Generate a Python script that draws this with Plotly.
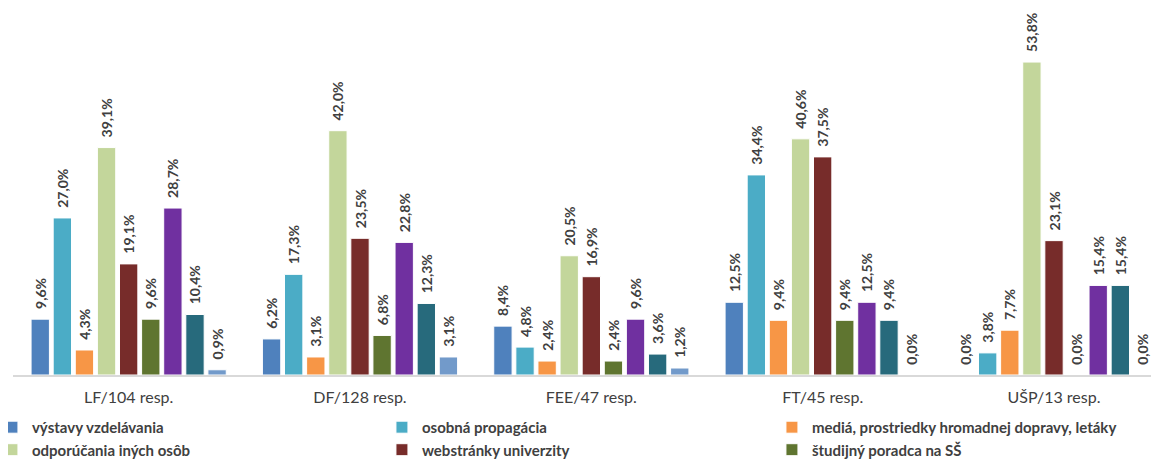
import plotly.graph_objects as go

categories = ["LF/104 resp.", "DF/128 resp.", "FEE/47 resp.", "FT/45 resp.", "UŠP/13 resp."]

series_names = [
    "výstavy vzdelávania",
    "osobná propagácia",
    "mediá, prostriedky hromadnej dopravy, letáky",
    "odporúčania iných osôb",
    "webstránky univerzity",
    "študijný poradca na SŠ",
    "sociálne siete",
    "deň otvorených dverí",
    "iné",
]

vystavy = [9.6, 6.2, 8.4, 12.5, 0.0]
osobna = [27.0, 17.3, 4.8, 34.4, 3.8]
media = [4.3, 3.1, 2.4, 9.4, 7.7]
odporucania = [39.1, 42.0, 20.5, 40.6, 53.8]
webstranky = [19.1, 23.5, 16.9, 37.5, 23.1]
poradca = [9.6, 6.8, 2.4, 9.4, 0.0]
socialne = [28.7, 22.8, 9.6, 12.5, 15.4]
dod = [10.4, 12.3, 3.6, 9.4, 15.4]
ine = [0.9, 3.1, 1.2, 0.0, 0.0]

series_values = [vystavy, osobna, media, odporucania, webstranky, poradca, socialne, dod, ine]
colors = ["#4F81BD", "#4BACC6", "#F79646", "#C3D69B", "#772C2A",
          "#5F7530", "#7030A0", "#276A7C", "#729ACA"]
legend_visible = [True, True, True, True, True, True, False, False, False]

FONT = "Lato, sans-serif"

fig = go.Figure()
for name, vals, col, lv in zip(series_names, series_values, colors, legend_visible):
    fig.add_trace(go.Bar(
        x=categories, y=vals, name=name,
        marker=dict(color=col, line=dict(color="white", width=1)),
        texttemplate="\u00a0\u00a0<b>%{y:.1f}%</b>",
        textposition="outside", textangle=-90,
        constraintext="none",
        textfont=dict(family=FONT, size=14, color="#404040"),
        cliponaxis=False,
        showlegend=lv,
    ))

# page body has an 8px margin; figure coordinates compensate for it
fig.update_layout(
    width=1210, height=451,
    margin=dict(l=5, r=9, t=18, b=84, autoexpand=False),
    paper_bgcolor="white", plot_bgcolor="white",
    barmode="group", bargap=0.14, bargroupgap=0.17,
    separators=",.",
    font=dict(family=FONT, size=14, color="#404040"),
    legend=dict(
        orientation="h", x=-0.0176, xanchor="left", y=-0.103, yanchor="top",
        entrywidth=345, entrywidthmode="pixels",
        font=dict(family=FONT, size=15, color="#404040", weight="bold"),
        itemwidth=30, tracegroupgap=0,
    ),
)
fig.update_xaxes(
    range=[-0.5, 4.67],
    showline=True, linecolor="#D9D9D9", linewidth=2,
    ticks="", showgrid=False, automargin=False, ticklabelstandoff=7,
    tickfont=dict(family=FONT, size=16, color="#404040"),
)
fig.update_yaxes(
    range=[0, 60], visible=False, showgrid=False, zeroline=False,
)

fig.write_html("out.html")
